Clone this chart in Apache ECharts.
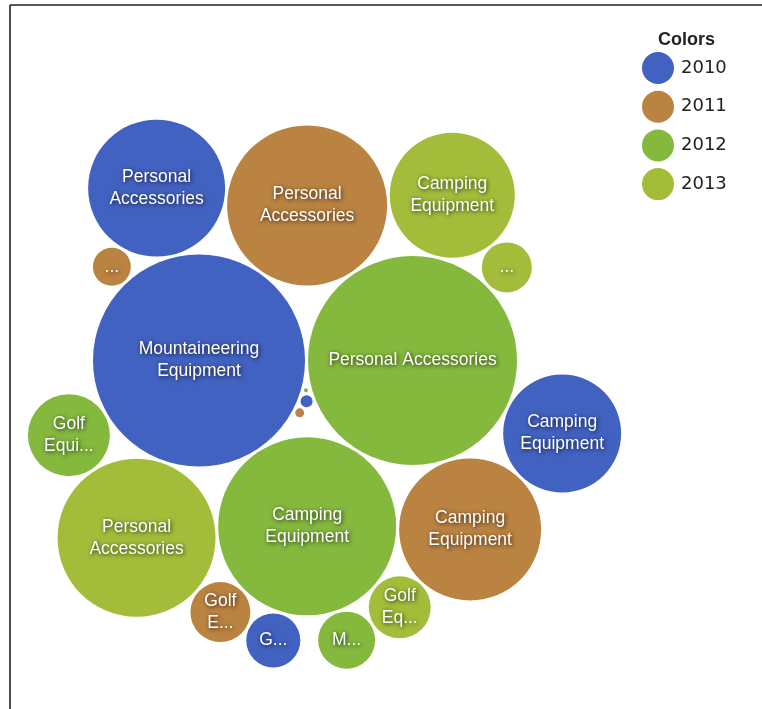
<!DOCTYPE html>
<html><head><meta charset="utf-8">
<script src="https://cdn.jsdelivr.net/npm/echarts@6/dist/echarts.min.js"></script>
<style>html,body{margin:0;padding:0;background:#fff}#c{width:762px;height:709px}</style>
</head><body><div id="c"></div>
<script>
// ---- data ----
const years = ['2010', '2011', '2012', '2013'];
const yearColors = ['#4262c2', '#bb8341', '#84b93d', '#a3bd3b'];
const products = ['Mountaineering Equipment', 'Personal Accessories', 'Camping Equipment', 'Personal Accessories',
  'Personal Accessories', 'Camping Equipment', 'Personal Accessories', 'Camping Equipment', 'Camping Equipment',
  'Golf Equipment', 'Golf Equipment', 'Golf Equipment', 'Mountaineering Equipment', 'Golf Equipment',
  'Mountaineering Equipment', 'Mountaineering Equipment', 'Outdoor Protection', 'Outdoor Protection', 'Outdoor Protection'];
const itemYears = ['2010', '2012', '2012', '2011', '2013', '2011', '2010', '2013', '2010', '2012', '2013', '2011',
  '2012', '2010', '2013', '2011', '2010', '2011', '2012'];
const revenue = [112.4, 109.2, 79.2, 64.0, 62.4, 50.4, 46.9, 39.1, 34.8, 16.8, 9.6, 9.0, 8.1, 7.3, 6.25, 3.6, 0.36, 0.2, 0.04];
const labels = ['Mountaineering\nEquipment', 'Personal Accessories', 'Camping\nEquipment', 'Personal\nAccessories',
  'Personal\nAccessories', 'Camping\nEquipment', 'Personal\nAccessories', 'Camping\nEquipment', 'Camping\nEquipment',
  'Golf\nEqui...', 'Golf\nEq...', 'Golf\nE...', 'M...', 'G...', '...', '...', '', '', ''];

// ---- layout: greedy circle packing toward a focus point, kept inside the plot area ----
const W = 762, H = 709;
const K = 10;        // px radius per sqrt(unit)
const PAD = 1.5;     // half gap between bubbles
const AX = 199, AY = 360.5;                         // screen position of the largest bubble
const FOCUS = [305.4, 400];                         // screen point the packing gravitates to
const AREA = { x0: 20, x1: 625, y0: 110, y1: 685 }; // plot area (left of legend)
const order = revenue.map((v, i) => i).sort((a, b) => revenue[b] - revenue[a]);
const rs = order.map(i => K * Math.sqrt(revenue[i]));
function inside(c, r) {
  const sx = c[0] + AX, sy = c[1] + AY;
  return sx - r >= AREA.x0 && sx + r <= AREA.x1 && sy - r >= AREA.y0 && sy + r <= AREA.y1;
}
function pack(rs, pad) {
  const n = rs.length, P = [], R = rs.map(r => r + pad);
  const fx = FOCUS[0] - AX, fy = FOCUS[1] - AY;
  for (let i = 0; i < n; i++) {
    if (i === 0) { P.push([0, 0]); continue; }
    if (i === 1) { P.push([R[0] + R[1], 0]); continue; }
    let best = null, bd = Infinity;
    for (let a = 0; a < i; a++) for (let b = a + 1; b < i; b++) {
      const ra = R[a] + R[i], rb = R[b] + R[i];
      const dx = P[b][0] - P[a][0], dy = P[b][1] - P[a][1], d = Math.hypot(dx, dy);
      if (d === 0 || d > ra + rb || d < Math.abs(ra - rb)) continue;
      const l = (ra * ra - rb * rb + d * d) / (2 * d), h = Math.sqrt(Math.max(0, ra * ra - l * l));
      const bx = P[a][0] + l * dx / d, by = P[a][1] + l * dy / d;
      const cands = [[bx - h * dy / d, by + h * dx / d], [bx + h * dy / d, by - h * dx / d]];
      for (const c of cands) {
        if (!inside(c, rs[i])) continue;
        let ok = true;
        for (let k = 0; k < i; k++) {
          if (Math.hypot(c[0] - P[k][0], c[1] - P[k][1]) < R[k] + R[i] - 1e-6) { ok = false; break; }
        }
        if (!ok) continue;
        const dd = Math.hypot(c[0] - fx, c[1] - fy);
        if (dd < bd - 1e-9) { bd = dd; best = c; }
      }
    }
    P.push(best || [0, 0]);
  }
  return P;
}
const pos = pack(rs, PAD);
const placed = [];
order.forEach((idx, k) => { placed[idx] = [pos[k][0], pos[k][1], rs[k], idx]; });
const anchor = placed[order[0]];

const FONT = 'Liberation Sans, Arial, sans-serif';
const series = years.map((y, yi) => ({
  type: 'custom',
  name: y,
  coordinateSystem: 'cartesian2d',
  clip: false,
  itemStyle: { color: yearColors[yi] },
  data: placed.filter(p => itemYears[p[3]] === y),
  renderItem: function (params, api) {
    const c = api.coord([api.value(0), api.value(1)]);
    const r = api.size([api.value(2), 0])[0];
    const idx = api.value(3);
    return {
      type: 'circle',
      shape: { cx: c[0], cy: c[1], r: r },
      style: { fill: api.visual('color') },
      textContent: {
        type: 'text',
        style: {
          text: labels[idx], fill: '#ffffff', fontSize: 17.5, fontFamily: FONT,
          lineHeight: 22, align: 'center', verticalAlign: 'middle',
          textShadowColor: 'rgba(0,0,0,0.8)', textShadowBlur: 4, textShadowOffsetX: 1, textShadowOffsetY: 1
        }
      },
      textConfig: { position: 'inside' }
    };
  }
}));

const chart = echarts.init(document.getElementById('c'), null, { renderer: 'canvas' });
chart.setOption({
  animation: false,
  backgroundColor: '#ffffff',
  color: yearColors,
  title: {
    text: 'Colors', left: 653, top: 26,
    textStyle: { fontSize: 18, fontWeight: 'bold', color: '#222', fontFamily: FONT }
  },
  legend: {
    data: years, orient: 'vertical', left: 637, top: 47, itemWidth: 32, itemHeight: 32, itemGap: 6.7,
    icon: 'circle', selectedMode: false,
    textStyle: { fontSize: 18, color: '#222', fontFamily: 'DejaVu Sans, sans-serif', padding: [0, 0, 0, 2] }
  },
  grid: { left: 0, top: 0, right: 0, bottom: 0 },
  xAxis: { type: 'value', show: false, min: anchor[0] - AX, max: anchor[0] - AX + W },
  yAxis: { type: 'value', show: false, inverse: true, min: anchor[1] - AY, max: anchor[1] - AY + H },
  graphic: [
    { type: 'line', shape: { x1: 10, y1: 5, x2: 762, y2: 5 }, style: { stroke: '#222', lineWidth: 1.6 } },
    { type: 'line', shape: { x1: 10, y1: 5, x2: 10, y2: 709 }, style: { stroke: '#222', lineWidth: 1.6 } }
  ],
  series: series
});
</script></body></html>
